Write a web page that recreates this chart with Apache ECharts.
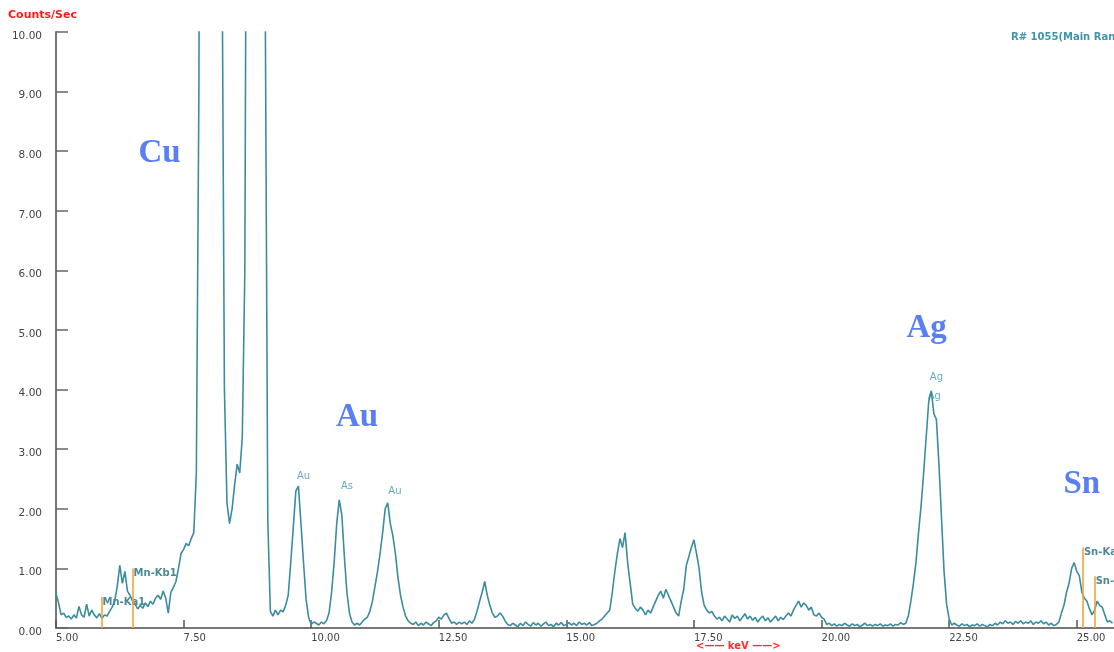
<!DOCTYPE html>
<html>
<head>
<meta charset="utf-8">
<script src="https://cdn.jsdelivr.net/npm/echarts@6/dist/echarts.min.js"></script>
<style>
html,body{margin:0;padding:0;background:#fff;}
#chart{width:1114px;height:652px;}
</style>
</head>
<body>
<div id="chart"></div>
<script>
// Spectrum channels: start energy and channel width (keV)
const keVStart = 5.0;
const keVStep = 0.05;
// Counts/Sec per channel, one row per keV (5.00 ... 25.70)
const counts = [
  0.58,0.42,0.22,0.25,0.18,0.2,0.15,0.22,0.17,0.36,0.22,0.18,0.4,0.2,0.3,0.22,0.17,0.24,0.16,0.22,
  0.2,0.28,0.35,0.45,0.7,1.05,0.75,0.95,0.62,0.55,0.45,0.4,0.32,0.38,0.33,0.42,0.36,0.45,0.4,0.5,
  0.55,0.48,0.62,0.5,0.25,0.6,0.68,0.78,1.0,1.25,1.32,1.42,1.38,1.5,1.6,2.6,9.0,25,40,50,
  55,56,50,38,25,12,4.0,2.1,1.75,2.0,2.4,2.75,2.6,3.2,6,18,22,22,21,18,
  16,14,10.5,1.8,0.28,0.2,0.3,0.22,0.3,0.27,0.38,0.55,1.1,1.7,2.3,2.38,1.75,1.1,0.48,0.18,
  0.06,0.1,0.08,0.05,0.1,0.07,0.12,0.25,0.6,1.1,1.75,2.15,1.9,1.2,0.6,0.25,0.1,0.05,0.08,0.05,
  0.1,0.15,0.18,0.28,0.45,0.7,0.95,1.25,1.6,2.0,2.1,1.75,1.55,1.25,0.85,0.55,0.35,0.2,0.12,0.08,
  0.06,0.1,0.04,0.08,0.05,0.1,0.07,0.04,0.09,0.12,0.18,0.15,0.22,0.25,0.16,0.08,0.1,0.06,0.1,0.07,
  0.1,0.06,0.12,0.08,0.15,0.28,0.45,0.6,0.78,0.55,0.38,0.25,0.18,0.2,0.25,0.2,0.12,0.06,0.04,0.08,
  0.05,0.02,0.08,0.04,0.1,0.06,0.03,0.09,0.05,0.08,0.03,0.07,0.1,0.04,0.06,0.02,0.08,0.05,0.09,0.04,
  0.06,0.09,0.05,0.08,0.04,0.1,0.06,0.08,0.05,0.09,0.04,0.06,0.08,0.12,0.15,0.2,0.25,0.3,0.6,0.95,
  1.25,1.5,1.35,1.6,1.1,0.75,0.4,0.33,0.28,0.35,0.3,0.22,0.3,0.25,0.35,0.45,0.55,0.62,0.5,0.65,
  0.55,0.45,0.35,0.25,0.2,0.45,0.65,1.05,1.2,1.35,1.48,1.25,1.0,0.6,0.38,0.3,0.25,0.28,0.2,0.15,
  0.18,0.12,0.2,0.15,0.1,0.22,0.16,0.2,0.12,0.18,0.24,0.15,0.2,0.13,0.18,0.1,0.16,0.2,0.12,0.17,
  0.1,0.15,0.2,0.12,0.18,0.14,0.2,0.25,0.2,0.3,0.38,0.45,0.35,0.42,0.38,0.3,0.35,0.22,0.2,0.25,
  0.18,0.15,0.06,0.08,0.04,0.07,0.03,0.06,0.04,0.08,0.05,0.03,0.07,0.04,0.06,0.02,0.05,0.08,0.04,0.06,
  0.03,0.06,0.04,0.07,0.03,0.05,0.04,0.07,0.03,0.06,0.05,0.09,0.06,0.08,0.2,0.45,0.75,1.1,1.6,2.05,
  2.6,3.2,3.8,3.98,3.6,3.5,2.75,1.85,0.95,0.4,0.15,0.05,0.08,0.05,0.03,0.07,0.04,0.06,0.02,0.05,
  0.04,0.07,0.03,0.06,0.04,0.02,0.06,0.04,0.08,0.05,0.1,0.07,0.12,0.08,0.1,0.06,0.11,0.08,0.12,0.07,
  0.1,0.08,0.12,0.06,0.1,0.08,0.12,0.07,0.1,0.05,0.08,0.04,0.06,0.1,0.25,0.38,0.6,0.75,1.0,1.1,
  0.95,0.88,0.6,0.5,0.45,0.32,0.22,0.3,0.45,0.38,0.35,0.22,0.1,0.12,0.08
];

// Axis ticks
const xTicks = [5, 7.5, 10, 12.5, 15, 17.5, 20, 22.5, 25];

// Orange line markers (KLM lines)
const markerNames = ['Mn-Ka1', 'Mn-Kb1', 'Sn-Ka1', 'Sn-Kb1'];
const markerKeV   = [5.89, 6.50, 25.12, 25.35];
const markerTop   = [0.52, 1.0, 1.35, 0.87];

// Small peak tags
const tagNames = ['Au', 'As', 'Au', 'Ag', 'Ag'];
const tagKeV   = [9.85, 10.70, 11.64, 22.25, 22.21];
const tagCps   = [2.55, 2.37, 2.30, 4.20, 3.88];

// Big element annotations
const elemNames = ['Cu', 'Au', 'Ag', 'Sn'];
const elemKeV   = [7.03, 10.90, 22.06, 25.10];
const elemCps   = [7.97, 3.54, 5.03, 2.40];

const spectrum = counts.map((v, i) => [keVStart + i * keVStep, v]);

const chart = echarts.init(document.getElementById('chart'), null, {renderer: 'canvas'});
const axisColor = '#777';
const option = {
  animation: false,
  backgroundColor: '#ffffff',
  grid: {left: 56, right: 0, top: 32, bottom: 24, containLabel: false},
  xAxis: {
    type: 'value', min: 5, max: 25.73,
    axisLine: {show: true, lineStyle: {color: axisColor, width: 2}},
    axisTick: {show: true, inside: true, length: 8, lineStyle: {color: '#555', width: 1.5}, customValues: xTicks},
    axisLabel: {
      show: true, customValues: xTicks, align: 'left', margin: 5,
      color: '#444', fontSize: 10, fontFamily: 'DejaVu Sans',
      formatter: v => Number(v).toFixed(2)
    },
    splitLine: {show: false}
  },
  yAxis: {
    type: 'value', min: 0, max: 10, interval: 1,
    axisLine: {show: true, lineStyle: {color: axisColor, width: 2}},
    axisTick: {show: true, inside: true, length: 12, lineStyle: {color: '#666', width: 1.5}},
    axisLabel: {
      color: '#444', fontSize: 10.5, fontFamily: 'DejaVu Sans', margin: 14,
      verticalAlign: 'top', lineHeight: 8,
      formatter: v => Number(v).toFixed(2)
    },
    splitLine: {show: false}
  },
  graphic: [
    {type: 'text', left: 8, top: 10, style: {text: 'Counts/Sec', fill: '#ff1a1a', font: 'bold 11px "DejaVu Sans"'}},
    {type: 'text', left: 1011, top: 32, style: {text: 'R# 1055(Main Range)', fill: '#3f96a8', font: 'bold 10px "DejaVu Sans"'}},
    {type: 'text', left: 696, top: 641, style: {text: '<—— keV ——>', fill: '#ff2a2a', font: 'bold 10px "DejaVu Sans"'}}
  ],
  series: [
    {
      name: 'spectrum', type: 'line', data: spectrum, showSymbol: false, clip: true,
      lineStyle: {color: '#3a8d9e', width: 1.6}, z: 3, silent: true
    },
    {
      name: 'markers', type: 'scatter', z: 2,
      data: markerKeV.map((k, i) => [k, markerTop[i], markerNames[i]]),
      symbolSize: 0.1, itemStyle: {color: 'transparent'},
      label: {
        show: true, position: 'right', distance: 1, offset: [0, 5],
        formatter: p => p.data[2], color: '#1d6d7c', fontSize: 10, fontWeight: 'bold', fontFamily: 'DejaVu Sans'
      },
      markLine: {
        silent: true, symbol: 'none', animation: false,
        label: {show: false},
        lineStyle: {color: '#f5a23a', width: 1.6, type: 'solid'},
        data: markerKeV.map((k, i) => [{coord: [k, 0]}, {coord: [k, markerTop[i]]}])
      }
    },
    {
      name: 'tags', type: 'scatter', z: 4,
      data: tagKeV.map((k, i) => [k, tagCps[i], tagNames[i]]),
      symbolSize: 0.1, itemStyle: {color: 'transparent'},
      label: {show: true, position: 'inside', formatter: p => p.data[2], color: '#3d95a6', fontSize: 10, fontFamily: 'DejaVu Sans'}
    },
    {
      name: 'elements', type: 'scatter', z: 5,
      data: elemKeV.map((k, i) => [k, elemCps[i], elemNames[i]]),
      symbolSize: 0.1, itemStyle: {color: 'transparent'},
      label: {show: true, position: 'inside', formatter: p => p.data[2], color: '#2f5ff5', fontSize: 33, fontWeight: 'bold', fontFamily: '"Liberation Serif", serif'}
    }
  ]
};
chart.setOption(option);
</script>
</body>
</html>
